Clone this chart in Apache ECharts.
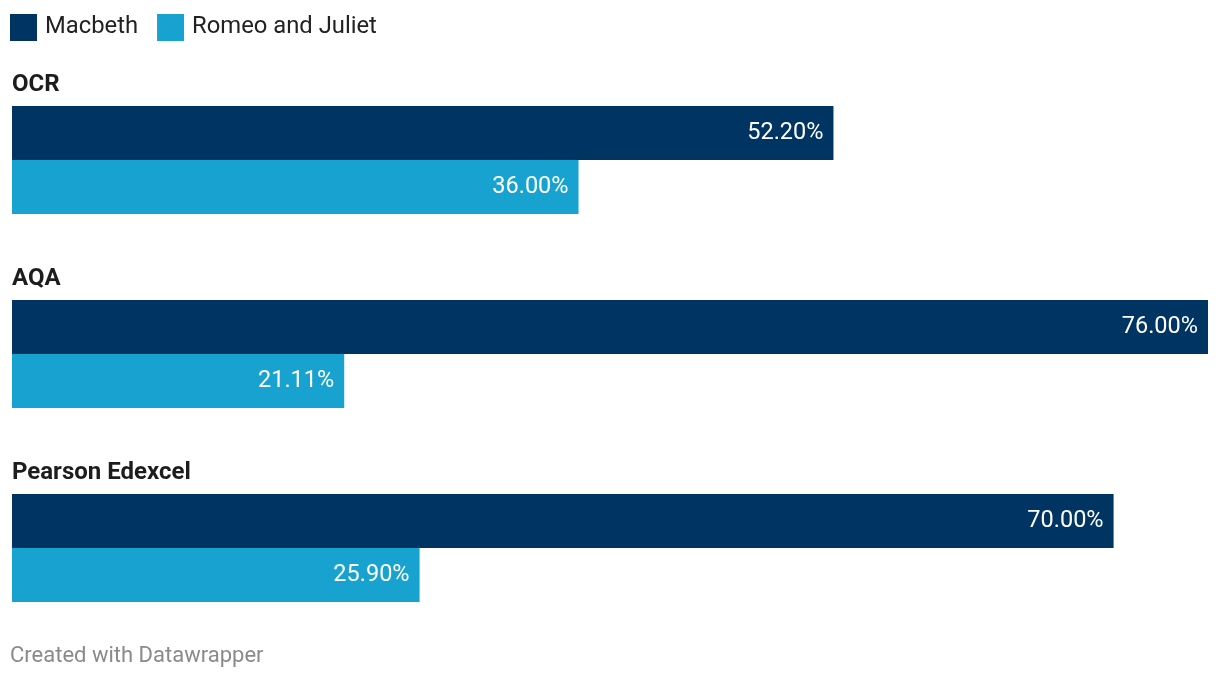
<!DOCTYPE html>
<html>
<head>
<meta charset="utf-8">
<script src="https://cdn.jsdelivr.net/npm/echarts@6/dist/echarts.min.js"></script>
<style>html,body{margin:0;padding:0;background:#fff;}#chart{width:1220px;height:680px;}</style>
</head>
<body>
<div id="chart"></div>
<script>
const categories = ['OCR', 'AQA', 'Pearson Edexcel'];
const macbeth = [52.2, 76.0, 70.0];
const romeoJuliet = [36.0, 21.11, 25.9];
const seriesNames = ['Macbeth', 'Romeo and Juliet'];

const chart = echarts.init(document.getElementById('chart'));
const font = 'Roboto, sans-serif';
const lbl = {
  show: true, position: 'insideRight', distance: 10, color: '#ffffff',
  fontFamily: font, fontSize: 23.5,
  formatter: p => p.value.toFixed(2) + '%'
};
chart.setOption({
  animation: false,
  textStyle: { fontFamily: font },
  title: {
    text: 'Created with Datawrapper', left: 10, top: 645, padding: 0,
    textStyle: { fontFamily: font, fontSize: 22, fontWeight: 'normal', color: '#8a8a8a' }
  },
  legend: {
    left: 10, top: 14, padding: 0, itemWidth: 27, itemHeight: 27, itemGap: 19, icon: 'rect',
    textStyle: { fontFamily: font, fontSize: 23.8, color: '#222222', padding: [4, 0, 0, 3] },
    data: seriesNames
  },
  grid: { left: 12, right: 12, top: 63, height: 582, containLabel: false },
  xAxis: { type: 'value', min: 0, max: 76, show: false },
  yAxis: {
    type: 'category', data: categories, inverse: true, z: 10,
    axisLine: { show: false }, axisTick: { show: false }, splitLine: { show: false },
    axisLabel: {
      inside: true, margin: 0, align: 'left', verticalAlign: 'middle',
      formatter: v => '{t|' + v + '}\n{s|}',
      rich: {
        t: { fontFamily: font, fontSize: 24, fontWeight: 'bold', color: '#1d1d1d', lineHeight: 28 },
        s: { height: 150, lineHeight: 150 }
      }
    }
  },
  series: [
    { name: seriesNames[0], type: 'bar', data: macbeth, barWidth: 54, barGap: '0%',
      itemStyle: { color: '#003462' }, label: lbl },
    { name: seriesNames[1], type: 'bar', data: romeoJuliet, barWidth: 54, barGap: '0%',
      itemStyle: { color: '#18a2cf' }, label: lbl }
  ]
});
</script>
</body>
</html>
